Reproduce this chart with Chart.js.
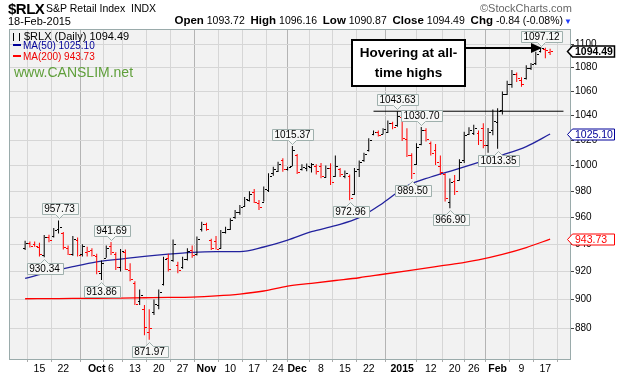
<!DOCTYPE html>
<html>
<head>
<meta charset="utf-8">
<script src="https://cdn.jsdelivr.net/npm/chart.js"></script>
<style>
  body { margin: 0; background: #fff; }
  #wrap { position: relative; width: 618px; height: 378px; font-family: Arial, "Liberation Sans", sans-serif; color: #000; }
  #chart { position: absolute; left: 0; top: 0; }
  .t { position: absolute; white-space: nowrap; line-height: 1; }
  .b { font-weight: bold; font-size: 11.5px; }
  .ico { display: inline-block; width: 5px; height: 8px; border-left: 1px solid #000; border-right: 1px solid #000; margin-right: 4px; vertical-align: -1px; }
  .dash { display: inline-block; width: 8px; height: 2px; margin-right: 2px; vertical-align: 3px; }
  #note { position: absolute; left: 351px; top: 39px; width: 115px; height: 48px; box-sizing: border-box; border: 2px solid #000; background: #fff; font-weight: bold; font-size: 13.5px; text-align: center; line-height: 20px; padding-top: 2px; }
  #arrowLine { position: absolute; left: 466px; top: 47px; width: 66px; height: 2px; background: #000; }
  #arrowHead { position: absolute; left: 531px; top: 43px; width: 0; height: 0; border-left: 11px solid #000; border-top: 5px solid transparent; border-bottom: 5px solid transparent; }
</style>
</head>
<body>
<div id="wrap">
  <canvas id="chart" width="618" height="378"></canvas>

  <div class="t" style="left:8px; top:1px; font-size:15px; font-weight:bold; letter-spacing:-0.5px;">$RLX</div>
  <div class="t" style="left:46px; top:3px; font-size:10.5px;">S&amp;P Retail Index&nbsp; INDX</div>
  <div class="t" style="left:480px; top:3px; font-size:11px; color:#666;">&copy;StockCharts.com</div>
  <div class="t" style="left:8px; top:16px; font-size:11px;">18-Feb-2015</div>
  <div class="t" style="right:55px; top:15px; font-size:10.5px;">
    <span class="b">Open</span> 1093.72 &nbsp;<span class="b">High</span> 1096.16 &nbsp;<span class="b">Low</span> 1090.87 &nbsp;<span class="b">Close</span> 1094.49 &nbsp;<span class="b">Chg</span> -0.84 (-0.08%)
  </div>
  <div class="t" style="left:564px; top:18px; font-size:8px; color:#1e3cff;">&#9660;</div>

  <div class="t" style="left:13px; top:31px; font-size:11px;"><span class="ico"></span>$RLX (Daily) 1094.49</div>
  <div class="t" style="left:13px; top:41px; font-size:10px; color:#000099;"><span class="dash" style="background:#000099"></span>MA(50) 1025.10</div>
  <div class="t" style="left:13px; top:52px; font-size:10px; color:#ee0000;"><span class="dash" style="background:#ff0000"></span>MA(200) 943.73</div>
  <div class="t" style="left:14px; top:65px; font-size:14px; color:#5f9f3a;">www.CANSLIM.net</div>

  <div id="note">Hovering at all-<br>time highs</div>
  <div id="arrowLine"></div>
  <div id="arrowHead"></div>
</div>

<script>
// daily bars, 10-Sep-2014 .. 18-Feb-2015 (index = trading day)
const opens = [937, 941, 940, 938, 932, 945, 946, 951, 948, 937, 933, 943, 933, 934, 936, 931, 919, 930, 939, 933,
  923, 934, 921, 912, 899, 893, 877, 891, 896, 911, 930, 928, 925, 923, 929, 936, 933, 951, 955, 943,
  942, 937, 949, 951, 960, 964, 969, 973, 979, 971, 972, 981, 994, 996, 1004, 997, 1000, 1008, 997, 998,
  999, 1000, 1000, 991, 998, 992, 997, 992, 992, 978, 997, 1004, 1012, 1025, 1027, 1025, 1027, 1034, 1032, 1039,
  1021, 1008, 1001, 1017, 1028, 1018, 1012, 1000, 993, 972, 988, 989, 1004, 1025, 1026, 1026, 1030, 1016, 1028, 1035,
  1045, 1058, 1066, 1075, 1070, 1071, 1080, 1084, 1094, 1096, 1093.72];
const highs = [942.5, 942, 942, 941, 946.8, 947, 952, 957.73, 949, 939, 946, 945, 940, 938, 937, 933, 928, 939, 941.69, 934,
  936.5, 936, 926, 913, 907, 896, 893, 900, 907, 930.8, 933, 943.5, 927, 930.8, 937, 939, 945.6, 956.8, 956, 944,
  946, 950.6, 953, 959.3, 965.7, 969.5, 975.6, 980, 981.7, 973.3, 983.7, 994, 999, 1003, 1005.7, 999, 1015.37, 1009, 1001, 1001.5,
  1002, 1001, 1002, 1000, 1001.7, 1008, 998, 996, 993, 998, 1004, 1010, 1021.6, 1028, 1028, 1029.8, 1036, 1035, 1043.63, 1040.6,
  1029.7, 1009.6, 1017.6, 1030.7, 1029.8, 1019, 1017, 1008, 994, 989.8, 992.6, 1005, 1027, 1030.5, 1032.5, 1028, 1033.8, 1030, 1045, 1046,
  1060, 1069, 1078, 1076, 1072, 1082, 1084, 1093.7, 1097.12, 1097, 1096.16];
const lows = [935.7, 937.5, 938, 931, 930.34, 941.5, 945, 948, 936, 932, 931.5, 931, 931, 931, 931, 918, 913.86, 930, 932, 921,
  920, 921, 913, 896, 896, 875, 871.97, 889, 893, 910, 920, 927, 918.7, 922, 928, 930, 931.6, 949.4, 950, 935.7,
  936, 936.7, 948, 950.6, 959, 962, 968, 972, 970.9, 965.7, 972, 979.3, 992, 995, 995.2, 996, 999.5, 993.4, 996, 995.5,
  994.5, 993, 990, 990.5, 984.8, 991, 991, 990, 972.96, 977, 991, 1003, 1011, 1024, 1023, 1025, 1026, 1029, 1031, 1019.5,
  1006.8, 989.5, 1000.4, 1016, 1019, 1008, 1000.4, 992.6, 972, 966.9, 977, 988, 1002, 1024.3, 1024.3, 1016.3, 1013.6, 1010, 1024, 1013.35,
  1041, 1057, 1063, 1068, 1064, 1070, 1078, 1082.3, 1093, 1088, 1090.87];
const closes = [941, 939, 938.5, 933, 945, 943, 950.5, 952.5, 938, 933, 944, 932, 938.5, 935, 932, 920, 926, 937, 934, 923,
  935, 922, 914.5, 897, 903, 881, 880, 897, 905, 929, 922, 940, 921, 929, 935, 932, 944, 955, 951, 937,
  936.5, 949, 951.5, 958, 964, 968, 974, 978, 972, 968, 982, 992, 997, 1001, 997, 998.5, 1012, 995, 999, 1000,
  1001, 996, 992, 998, 987, 1000, 993, 994, 975, 996, 1003, 1009, 1020, 1027, 1024, 1029, 1034, 1031, 1040, 1022,
  1008, 994, 1015, 1028, 1021, 1010, 1003, 995, 975, 987, 980, 1003, 1024, 1028, 1030, 1020, 1016, 1027, 1036, 1044,
  1058, 1066, 1075, 1071, 1066, 1080, 1083, 1092, 1096.5, 1095.33, 1094.49];

// moving averages read every 5 bars
const maIdx = [0, 5, 10, 15, 20, 25, 30, 35, 40, 45, 50, 55, 60, 65, 70, 75, 80, 85, 90, 95, 100, 105, 110];
const ma50 = [915, 919.5, 923.5, 927, 929, 931, 932.7, 934, 934.5, 934.5, 937.9, 943, 949.3, 953.8, 959.8, 971, 984, 991, 996.5, 1002.4, 1008.3, 1015, 1025.1];
const ma200 = [900.5, 900.6, 900.7, 900.8, 901, 901.2, 901.4, 901.7, 902.5, 903.8, 906, 909.5, 911.5, 913.5, 915.5, 918, 920.5, 923, 925.5, 928.5, 932.5, 937.5, 943.73];

const resistance = 1043.63;
const resistanceFrom = 73;

// x axis labels
const tickIdx = [3, 8, 15, 18, 23, 28, 33, 38, 43, 48, 53, 57, 62, 67, 72, 79, 85, 90, 94, 99, 104, 109];
const tickText = ['15', '22', 'Oct', '6', '13', '20', '27', 'Nov', '10', '17', '24', 'Dec', '8', '15', '22', '2015', '12', '20', '26', 'Feb', '9', '17'];
const monthTicks = [15, 38, 57, 79, 99];
const yTicks = [880, 900, 920, 940, 960, 980, 1000, 1020, 1040, 1060, 1080, 1100];

// price callouts
const tagIdx = [7, 4, 18, 16, 26, 56, 68, 78, 83, 81, 89, 99, 108];
const tagVal = [957.73, 930.34, 941.69, 913.86, 871.97, 1015.37, 972.96, 1043.63, 1030.70, 989.50, 966.90, 1013.35, 1097.12];
const tagBelow = [false, true, false, true, true, false, true, false, false, true, true, true, false];

const lastClose = 1094.49, lastMa50 = 1025.10, lastMa200 = 943.73;

function barColor(i) {
  return i > 0 && closes[i] < closes[i - 1] ? '#ff0000' : '#000000';
}

function drawTag(ctx, cx, tipY, text, below) {
  ctx.font = '10px Arial';
  const w = Math.round(ctx.measureText(text).width) + 5;
  const h = 11;
  cx = Math.round(cx) + 0.5;
  const left = Math.round(cx - w / 2) + 0.5, right = left + w;
  let top;
  ctx.beginPath();
  if (below) {
    top = Math.round(tipY + 6) + 0.5;
    ctx.moveTo(left, top);
    ctx.lineTo(cx - 4, top);
    ctx.lineTo(cx, top - 4);
    ctx.lineTo(cx + 4, top);
    ctx.lineTo(right, top);
    ctx.lineTo(right, top + h);
    ctx.lineTo(left, top + h);
  } else {
    top = Math.round(tipY - 6 - h) + 0.5;
    ctx.moveTo(left, top);
    ctx.lineTo(right, top);
    ctx.lineTo(right, top + h);
    ctx.lineTo(cx + 4, top + h);
    ctx.lineTo(cx, top + h + 4);
    ctx.lineTo(cx - 4, top + h);
    ctx.lineTo(left, top + h);
  }
  ctx.closePath();
  ctx.fillStyle = '#f6f7f6';
  ctx.fill();
  ctx.strokeStyle = '#9fb0ad';
  ctx.lineWidth = 1;
  ctx.stroke();
  ctx.fillStyle = '#000';
  ctx.textAlign = 'center';
  ctx.textBaseline = 'middle';
  ctx.fillText(text, cx, top + h / 2 + 0.5);
}

function drawValueTag(ctx, y, text, color, bold) {
  const yv = Math.round(y) + 0.5;
  ctx.beginPath();
  ctx.moveTo(567.5, yv);
  ctx.lineTo(572.5, yv - 5.5);
  ctx.lineTo(614.5, yv - 5.5);
  ctx.lineTo(614.5, yv + 5.5);
  ctx.lineTo(572.5, yv + 5.5);
  ctx.closePath();
  ctx.fillStyle = '#fff';
  ctx.fill();
  ctx.strokeStyle = color;
  ctx.lineWidth = bold ? 1.5 : 1;
  ctx.stroke();
  ctx.fillStyle = bold ? '#000' : color;
  ctx.font = (bold ? 'bold ' : '') + '10.5px Arial';
  ctx.textAlign = 'left';
  ctx.textBaseline = 'middle';
  ctx.fillText(text, 575, yv + 0.5);
}

const marks = {
  id: 'marks',
  beforeDraw(chart) {
    const { ctx, chartArea: a } = chart;
    ctx.save();
    ctx.fillStyle = '#f2f2f2';
    ctx.fillRect(a.left, a.top, a.right - a.left, a.bottom - a.top);
    ctx.restore();
  },
  afterDatasetsDraw(chart) {
    const { ctx, chartArea: a } = chart;
    const xs = chart.scales.x, ys = chart.scales.y;
    ctx.save();
    ctx.beginPath();
    ctx.rect(a.left, a.top, a.right - a.left, a.bottom - a.top);
    ctx.clip();
    // open / close ticks
    ctx.lineWidth = 1;
    for (let i = 0; i < closes.length; i++) {
      const px = Math.round(xs.getPixelForValue(i));
      const yo = Math.round(ys.getPixelForValue(opens[i])) + 0.5;
      const yc = Math.round(ys.getPixelForValue(closes[i])) + 0.5;
      ctx.strokeStyle = barColor(i);
      ctx.beginPath();
      ctx.moveTo(px - 2, yo);
      ctx.lineTo(px, yo);
      ctx.moveTo(px + 1, yc);
      ctx.lineTo(px + 3, yc);
      ctx.stroke();
    }
    for (let k = 0; k < tagIdx.length; k++) {
      drawTag(ctx, xs.getPixelForValue(tagIdx[k]), ys.getPixelForValue(tagVal[k]), tagVal[k].toFixed(2), tagBelow[k]);
    }
    ctx.restore();
  },
  afterDraw(chart) {
    const { ctx, chartArea: a } = chart;
    const ys = chart.scales.y;
    ctx.save();
    ctx.strokeStyle = '#9aabab';
    ctx.lineWidth = 1;
    ctx.strokeRect(a.left - 0.5, a.top - 0.5, a.right - a.left + 1, a.bottom - a.top + 1);
    drawValueTag(ctx, ys.getPixelForValue(lastClose), lastClose.toFixed(2), '#000', true);
    drawValueTag(ctx, ys.getPixelForValue(lastMa50), lastMa50.toFixed(2), '#000099', false);
    drawValueTag(ctx, ys.getPixelForValue(lastMa200), lastMa200.toFixed(2), '#ff0000', false);
    ctx.restore();
  }
};

new Chart(document.getElementById('chart').getContext('2d'), {
  type: 'bar',
  data: {
    datasets: [
      {
        type: 'bar',
        data: highs.map((h, i) => ({ x: i, y: [lows[i], h] })),
        backgroundColor: highs.map((h, i) => barColor(i)),
        barThickness: 1,
        borderWidth: 0,
        inflateAmount: 0,
        order: 0,
      },
      {
        type: 'line',
        data: maIdx.map((x, k) => ({ x: x, y: ma50[k] })),
        borderColor: '#22229e',
        borderWidth: 1.3,
        pointRadius: 0,
        cubicInterpolationMode: 'monotone',
        order: 1,
      },
      {
        type: 'line',
        data: maIdx.map((x, k) => ({ x: x, y: ma200[k] })),
        borderColor: '#ff0000',
        borderWidth: 1.3,
        pointRadius: 0,
        cubicInterpolationMode: 'monotone',
        order: 2,
      },
      {
        type: 'line',
        data: [{ x: resistanceFrom, y: resistance }, { x: 112.8, y: resistance }],
        borderColor: '#000',
        borderWidth: 1,
        pointRadius: 0,
        clip: { left: 0, top: 0, right: 7, bottom: 0 },
        order: 3,
      },
    ],
  },
  options: {
    responsive: false,
    devicePixelRatio: 1,
    animation: false,
    events: [],
    layout: { padding: { left: 10, top: 30, right: 0, bottom: 0 } },
    plugins: { legend: { display: false }, tooltip: { enabled: false } },
    scales: {
      x: {
        type: 'linear',
        min: -0.5,
        max: 111.5,
        afterBuildTicks: (s) => { s.ticks = tickIdx.map((v) => ({ value: v })); },
        afterFit: (s) => { s.height = 19; },
        ticks: {
          autoSkip: false,
          maxRotation: 0,
          padding: 1,
          color: '#000',
          font: (c) => ({ family: 'Arial', size: 10.5, weight: c.tick && monthTicks.includes(c.tick.value) ? 'bold' : 'normal' }),
          callback: (v) => tickText[tickIdx.indexOf(v)],
        },
        grid: {
          color: (c) => (c.tick && monthTicks.includes(c.tick.value) ? '#b4b4b4' : '#d6d6d6'),
          tickLength: 3,
          tickColor: '#aaa',
        },
        border: { display: false },
      },
      y: {
        type: 'logarithmic',
        position: 'right',
        min: 858.8,
        max: 1112.5,
        afterBuildTicks: (s) => { s.ticks = yTicks.map((v) => ({ value: v })); },
        afterFit: (s) => { s.width = 48; },
        ticks: {
          padding: 1,
          color: '#000',
          font: { family: 'Arial', size: 10 },
          callback: (v) => String(v),
        },
        grid: { color: '#d6d6d6', tickLength: 4, tickColor: '#444' },
        border: { display: false },
      },
    },
  },
  plugins: [marks],
});
</script>
</body>
</html>
